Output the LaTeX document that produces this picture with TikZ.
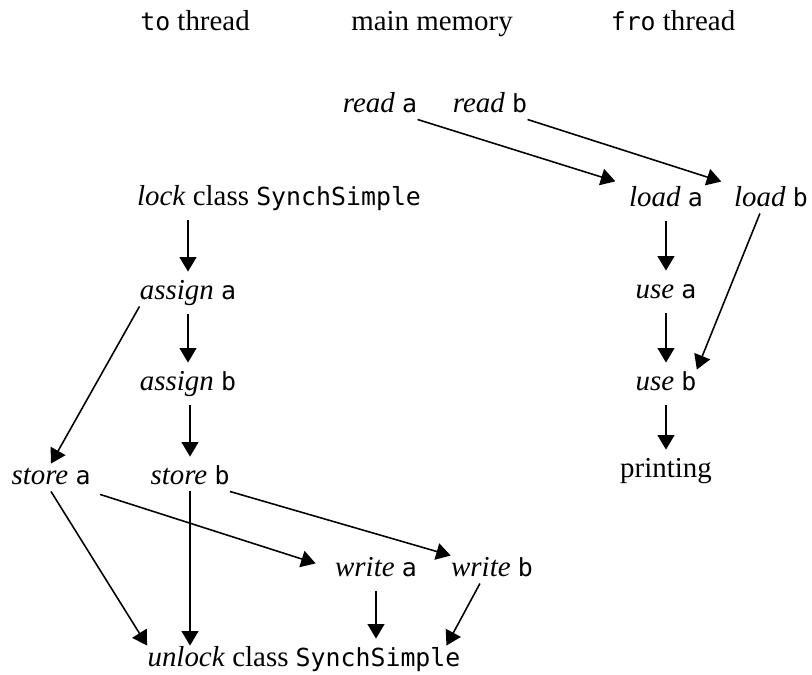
\documentclass[tikz,border=0pt]{standalone}
\usepackage{fontspec}
\setmainfont{Liberation Serif}
\setmonofont{DejaVu Sans Mono}[Scale=0.86]
\usetikzlibrary{arrows.meta}
\tikzset{
  act/.style={anchor=base, inner sep=0pt, text height=8.7pt, text depth=2.5pt,
    font=\fontsize{12}{14}\selectfont},
  seq/.style={-{Triangle[length=6pt,width=7pt]}, line width=0.65pt,
    shorten <=3.3pt, shorten >=2.9pt},
  xfer/.style={-{Triangle[length=6pt,width=7pt]}, line width=0.65pt},
}

\begin{document}
\begin{tikzpicture}[x=0.415pt,y=-0.415pt]
      \useasboundingbox (0,0) rectangle (812,675);
      % column heads
      \node[act] (tothr) at (195,31) {\texttt{to} thread};
      \node[act] (mem) at (432,31) {main memory};
      \node[act] (frothr) at (673,31) {\texttt{fro} thread};
      % main memory
      \node[act] (reada) at (380,113) {\textit{read} \texttt{a}};
      \node[act] (readb) at (490,113) {\textit{read} \texttt{b}};
      \node[act] (writea) at (376,577) {\textit{write} \texttt{a}};
      \node[act] (writeb) at (492,577) {\textit{write} \texttt{b}};
      % to thread
      \node[act] (lock) at (279,206) {\textit{lock} class \texttt{SynchSimple}};
      \node[act] (assigna) at (188,300) {\textit{assign} \texttt{a}};
      \node[act] (assignb) at (188,391) {\textit{assign} \texttt{b}};
      \node[act] (storea) at (51,485) {\textit{store} \texttt{a}};
      \node[act] (storeb) at (190,485) {\textit{store} \texttt{b}};
      \node[act] (unlock) at (304,667) {\textit{unlock} class \texttt{SynchSimple}};
      % fro thread
      \node[act] (loada) at (666,207) {\textit{load} \texttt{a}};
      \node[act] (loadb) at (771,207) {\textit{load} \texttt{b}};
      \node[act] (usea) at (666,299) {\textit{use} \texttt{a}};
      \node[act] (useb) at (666,391) {\textit{use} \texttt{b}};
      \node[act] (printing) at (666,478) {printing};

      \draw[seq] (lock.south -| assigna.north) -- (assigna.north);
      \draw[seq] (assigna) -- (assignb);
      \draw[seq] (assignb.south -| storeb.north) -- (storeb.north);
      \draw[xfer] (assigna.south west) -- (storea.north);
      \draw[xfer] (storea.south) -- (unlock.north west);
      \draw[xfer] (storeb.south) -- (storeb.south |- unlock.north);
      \draw[xfer, shorten <=4pt, shorten >=8.3pt] (storea.south east) -- (writea.west);
      \draw[xfer] (storeb.south east) -- (writeb.north west);
      \draw[seq] (writea.south) -- (writea.south |- unlock.north);
      \draw[xfer] ([xshift=-5pt]writeb.south) -- ([xshift=-6pt]unlock.north east);

      \draw[xfer, shorten >=5.8pt] (reada.south east) -- (loada.north west);
      \draw[xfer, shorten >=5.4pt] (readb.south east) -- (loadb.north west);
      \draw[seq] (loada) -- (usea);
      \draw[xfer] ([xshift=-4.6pt]loadb.south) -- (useb.north east);
      \draw[seq] (usea) -- (useb);
      \draw[seq] (useb) -- (printing);
\end{tikzpicture}
\end{document}
